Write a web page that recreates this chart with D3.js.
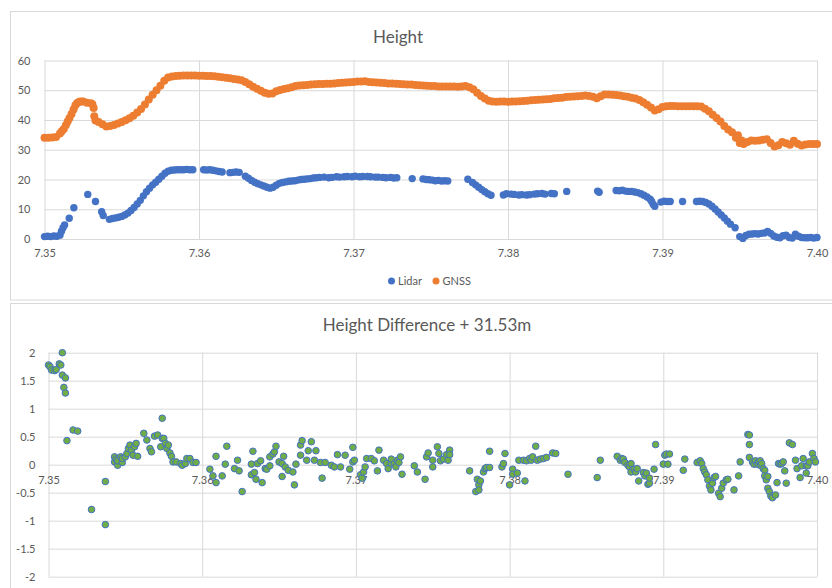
<!DOCTYPE html>
<html lang="en">
<head>
    <meta charset="UTF-8">
    <title>Height</title>
    <style>
        body {
            margin: 0;
            background: #fff;
        }
        svg text {
            font-family: Lato, "Open Sans", sans-serif;
            fill: #595959;
        }
    </style>
    <script src="https://d3js.org/d3.v7.min.js" charset="utf-8"></script>
</head>
<body>
    <script>
        // tick labels
        const xTicks = [7.35, 7.36, 7.37, 7.38, 7.39, 7.40]
        const heightTicks = [0, 10, 20, 30, 40, 50, 60]
        const diffTicks = [-2, -1.5, -1, -0.5, 0, 0.5, 1, 1.5, 2]
        const seriesNames = ['Lidar', 'GNSS']

        // GNSS height
        const gnssX = [
            7.35000,7.35025,7.35050,7.35075,7.35100,7.35112,7.35125,7.35138,7.35150,7.35162,7.35175,7.35188,7.35200,7.35212,7.35225,7.35238,
            7.35250,7.35275,7.35300,7.35310,7.35318,7.35322,7.35330,7.35350,7.35375,7.35400,7.35425,7.35450,7.35475,
            7.35500,7.35525,7.35550,7.35575,7.35600,7.35625,7.35650,7.35675,7.35700,7.35725,
            7.35750,7.35775,7.35800,7.35825,7.35850,7.35875,7.35900,7.35925,7.35950,7.35975,
            7.36000,7.36025,7.36050,7.36075,7.36100,7.36125,7.36150,7.36175,7.36200,7.36225,
            7.36250,7.36275,7.36300,7.36325,7.36350,7.36375,7.36400,7.36425,7.36450,7.36475,
            7.36500,7.36525,7.36550,7.36575,7.36600,7.36625,7.36650,7.36675,7.36700,7.36725,
            7.36750,7.36775,7.36800,7.36825,7.36850,7.36875,7.36900,7.36925,7.36950,7.36975,
            7.37000,7.37025,7.37050,7.37075,7.37100,7.37125,7.37150,7.37175,7.37200,7.37225,
            7.37250,7.37275,7.37300,7.37325,7.37350,7.37375,7.37400,7.37425,7.37450,7.37475,
            7.37500,7.37525,7.37550,7.37575,7.37600,7.37625,7.37650,7.37675,7.37700,7.37725,
            7.37750,7.37775,7.37800,7.37825,7.37850,7.37875,7.37900,7.37925,7.37950,7.37975,
            7.38000,7.38025,7.38050,7.38075,7.38100,7.38125,7.38150,7.38175,7.38200,7.38225,
            7.38250,7.38275,7.38300,7.38325,7.38350,7.38375,7.38400,7.38425,7.38450,7.38475,
            7.38500,7.38525,7.38550,7.38575,7.38600,7.38625,7.38650,7.38675,7.38700,7.38725,
            7.38750,7.38775,7.38800,7.38825,7.38850,7.38875,7.38900,7.38925,7.38950,7.38975,
            7.39000,7.39025,7.39050,7.39075,7.39100,7.39125,7.39150,7.39175,7.39200,7.39225,
            7.39250,7.39275,7.39300,7.39325,7.39350,7.39375,7.39400,7.39425,7.39450,7.39475,7.39488,7.39512,
            7.39500,7.39525,7.39550,7.39575,7.39600,7.39625,7.39650,7.39675,7.39700,7.39725,
            7.39750,7.39775,7.39800,7.39825,7.39850,7.39875,7.39900,7.39925,7.39950,7.39975,
            7.40000
        ]
        const gnssY = [
            34.0,34.0,34.1,34.3,35.5,36.2,37.0,38.2,39.5,40.7,42.0,43.5,45.0,45.7,46.1,46.2,
            46.2,45.8,45.6,45.3,44.0,41.3,39.8,39.3,38.6,37.8,38.0,38.3,38.8,
            39.3,39.9,40.6,41.4,42.5,43.7,45.2,46.9,48.5,50.0,
            51.5,53.2,54.3,54.6,54.8,54.9,55.0,55.0,55.0,55.0,
            54.9,54.9,54.8,54.8,54.7,54.5,54.4,54.2,54.0,53.8,
            53.6,53.4,52.8,52.0,51.2,50.5,49.8,49.2,48.8,48.9,
            49.7,50.1,50.4,50.7,51.0,51.4,51.6,51.7,51.8,51.9,
            52.0,52.1,52.1,52.2,52.2,52.3,52.4,52.5,52.6,52.7,
            52.8,52.9,52.9,53.0,52.8,52.7,52.6,52.5,52.4,52.3,
            52.3,52.2,52.1,52.0,51.9,51.9,51.8,51.7,51.6,51.5,
            51.4,51.4,51.3,51.3,51.3,51.3,51.3,51.2,51.3,51.4,
            51.0,50.3,49.2,48.1,47.2,46.5,46.2,46.1,46.2,46.2,
            46.1,46.2,46.2,46.3,46.4,46.5,46.6,46.7,46.8,46.9,
            47.0,47.1,47.3,47.4,47.5,47.7,47.8,47.9,48.0,48.1,
            48.2,48.1,47.8,47.3,48.0,48.6,48.6,48.5,48.4,48.2,
            48.0,47.8,47.5,47.2,46.7,46.0,45.1,44.2,43.2,43.6,
            44.4,44.6,44.7,44.7,44.6,44.6,44.6,44.6,44.6,44.6,
            44.5,43.8,42.9,41.8,40.7,39.5,38.0,36.8,35.9,34.0,34.9,33.1,
            32.3,31.9,32.6,33.1,33.0,33.1,33.4,33.5,32.3,31.1,
            31.5,32.6,32.2,31.7,33.0,32.0,31.4,31.8,31.9,31.9,
            31.9
        ]

        // Lidar height
        const lidarX = [
            7.3500,7.3502,7.3504,7.3506,7.3508,7.3510,7.3511,7.3512,7.3513,7.3516,7.3519,7.3528,7.3533,7.3537,7.3538,
            7.3542,7.3544,7.3546,7.3548,7.3550,7.3552,7.3554,7.3556,7.3558,7.3560,7.3562,7.3564,7.3566,7.3568,
            7.3570,7.3572,7.3574,7.3576,7.3578,7.3580,7.3582,7.3584,7.3586,7.3588,7.3590,7.3592,7.3594,7.3596,
            7.3603,7.3605,7.3607,7.3609,7.3611,7.3613,7.3615,7.3620,7.3622,7.3624,7.3626,
            7.3630,7.3632,7.3634,7.3636,7.3638,7.3640,7.3642,7.3644,7.3646,7.3648,7.3650,7.3652,7.3654,7.3656,7.3658,
            7.3660,7.3662,7.3664,7.3666,7.3668,7.3670,7.3672,7.3674,7.3676,7.3678,7.3681,7.3684,7.3686,7.3689,
            7.3691,7.3694,7.3696,7.3699,7.3701,7.3704,7.3706,7.3709,7.3711,7.3714,7.3716,7.3719,7.3721,7.3724,7.3726,7.3728,
            7.3738,7.3745,7.3747,7.3749,7.3751,7.3753,7.3755,7.3757,7.3759,7.3761,
            7.3774,7.3777,7.3779,7.3781,7.3783,7.3785,7.3787,7.3789,
            7.3797,7.3799,7.3802,7.3804,7.3807,7.3809,7.3812,7.3814,7.3817,7.3819,7.3822,7.3824,7.3828,7.3830,
            7.3838,7.3858,7.3859,
            7.3870,7.3872,7.3874,7.3876,7.3878,7.3880,7.3882,7.3884,7.3886,7.3888,7.3890,7.3892,7.3893,7.3894,7.3895,
            7.3899,7.3901,7.3903,7.3905,7.3913,
            7.3922,7.3924,7.3926,7.3928,7.3930,7.3932,7.3934,7.3936,7.3938,7.3940,7.3942,7.3944,7.3947,
            7.3950,7.3952,7.3954,7.3956,7.3958,7.3960,7.3962,7.3964,7.3966,7.3968,7.3970,7.3972,7.3974,7.3976,
            7.3978,7.3980,7.3982,7.3984,7.3986,7.3988,7.3990,7.3992,7.3994,7.3996,7.3998,7.4000
        ]
        const lidarY = [
            0.8,0.9,0.8,1.0,0.9,1.3,2.6,3.8,4.7,7.0,10.5,15.0,12.6,9.2,7.9,
            6.6,6.9,7.1,7.3,7.6,8.1,8.7,9.6,10.6,11.8,13.0,14.5,15.9,17.1,
            18.2,19.1,20.1,21.1,22.1,22.8,23.1,23.2,23.3,23.3,23.3,23.4,23.3,23.3,
            23.3,23.2,23.3,23.1,22.9,22.7,22.5,22.3,22.4,22.5,22.4,
            21.1,20.4,19.7,19.1,18.6,18.2,17.8,17.4,17.1,17.4,18.1,18.7,19.0,19.2,19.4,
            19.5,19.6,19.8,20.0,20.1,20.2,20.3,20.5,20.6,20.7,20.8,20.6,20.7,20.9,
            20.8,20.9,21.0,20.9,21.1,20.9,21.0,21.0,20.9,20.8,20.8,20.7,20.6,20.7,20.5,20.6,
            20.3,20.2,20.0,19.9,19.8,19.6,19.7,19.5,19.6,19.5,
            20.1,19.0,18.2,17.4,16.6,15.9,15.2,14.7,
            14.8,15.2,15.1,15.0,14.8,14.9,14.8,14.9,15.1,15.2,15.3,15.1,15.3,15.2,
            16.0,16.1,15.7,
            16.3,16.2,16.4,16.1,16.0,16.0,15.8,15.6,15.2,14.7,14.1,13.4,12.6,11.6,11.0,
            12.4,12.7,12.6,12.6,12.6,
            12.6,12.7,12.6,12.3,11.8,11.0,10.1,9.1,8.1,7.1,6.0,5.0,3.8,
            0.8,0.2,1.2,1.6,1.7,1.8,1.7,1.9,2.0,2.5,1.9,1.0,0.6,0.4,
            1.1,1.3,0.5,0.3,1.6,0.9,0.5,0.4,0.4,0.5,0.3,0.5
        ]

        // height difference (+31.53 m)
        const diffX = [
            7.3500,7.3501,7.3502,7.3504,7.3505,7.3507,7.3508,7.3509,7.3509,7.3510,7.3511,7.3511,7.3512,7.3516,7.3519,
            7.3528,7.3537,7.3537,7.3543,7.3543,7.3544,7.3545,7.3545,7.3547,7.3548,7.3548,7.3550,7.3551,7.3552,7.3553,
            7.3554,7.3555,7.3556,7.3557,7.3558,7.3562,7.3564,7.3566,7.3567,7.3569,7.3571,7.3573,7.3574,7.3574,7.3575,
            7.3576,7.3577,7.3578,7.3579,7.3580,7.3581,7.3583,7.3586,7.3587,7.3589,7.3590,7.3592,7.3594,7.3596,
            7.3605,7.3607,7.3609,7.3609,7.3613,7.3615,7.3616,7.3621,7.3623,7.3624,7.3626,7.3632,7.3632,7.3633,7.3634,
            7.3635,7.3636,7.3639,7.3638,7.3641,7.3642,7.3644,7.3644,7.3646,7.3647,7.3648,
            7.3650,7.3652,7.3652,7.3653,7.3654,7.3656,7.3659,7.3660,7.3661,7.3664,7.3664,7.3665,7.3668,7.3669,7.3671,
            7.3673,7.3674,7.3677,7.3678,7.3680,7.3684,7.3686,7.3688,7.3690,7.3693,7.3696,7.3698,7.3698,7.3699,
            7.3703,7.3704,7.3705,7.3706,7.3707,7.3710,7.3712,7.3714,7.3715,7.3718,7.3720,7.3721,7.3723,7.3723,
            7.3725,7.3726,7.3727,7.3728,7.3729,7.3730,7.3738,7.3740,7.3745,7.3746,7.3747,7.3750,7.3750,7.3753,
            7.3754,7.3755,7.3757,7.3759,7.3760,7.3761,7.3761,
            7.3774,7.3778,7.3779,7.3780,7.3780,7.3781,7.3783,7.3784,7.3785,7.3787,7.3787,7.3795,7.3796,7.3797,
            7.3800,7.3802,7.3802,7.3805,7.3806,7.3809,7.3810,7.3811,7.3813,7.3814,7.3815,7.3817,7.3818,7.3820,
            7.3822,7.3824,7.3828,7.3830,
            7.3838,7.3857,7.3859,7.3870,7.3872,7.3873,7.3874,7.3875,7.3877,7.3878,7.3879,7.3879,7.3881,7.3882,
            7.3883,7.3884,7.3887,7.3888,7.3889,7.3890,7.3891,7.3891,7.3894,7.3895,7.3900,7.3901,7.3902,7.3903,
            7.3904,7.3913,7.3914,7.3922,7.3924,7.3925,7.3926,7.3927,7.3928,7.3929,7.3930,7.3931,7.3932,7.3933,
            7.3934,7.3936,7.3937,7.3938,7.3939,7.3941,7.3942,7.3946,7.3949,7.3950,7.3955,7.3956,7.3956,7.3956,
            7.3958,7.3959,7.3960,7.3961,7.3962,7.3963,7.3963,7.3964,7.3965,7.3966,7.3966,7.3967,7.3968,7.3968,
            7.3969,7.3970,7.3971,7.3973,7.3974,7.3975,7.3976,7.3977,7.3978,7.3979,7.3980,7.3982,7.3984,7.3986,
            7.3987,7.3989,7.3990,7.3991,7.3993,7.3993,7.3994,7.3995,7.3997,7.3998,7.3999
        ]
        const diffY = [
            1.78,1.75,1.69,1.68,1.70,1.80,1.78,2.00,1.60,1.38,1.55,1.28,0.43,0.62,0.60,
            -0.80,-1.07,-0.30,0.14,0.05,0.10,-0.01,0.07,0.14,0.04,0.11,0.14,0.20,0.29,0.35,
            0.26,0.17,0.32,0.38,0.15,0.56,0.44,0.29,0.23,0.51,0.53,0.32,0.83,0.47,0.47,
            0.38,0.29,0.35,0.21,0.15,0.05,0.05,0.02,-0.01,0.02,0.11,0.11,0.04,0.04,
            -0.08,-0.20,-0.32,0.15,-0.20,0.01,0.33,-0.07,0.08,-0.11,-0.48,0.01,-0.18,0.24,-0.14,
            -0.26,0.02,-0.32,0.07,-0.07,-0.08,-0.02,0.14,0.19,0.23,0.33,
            0.05,0.02,-0.21,0.15,-0.04,-0.10,-0.13,-0.36,0.01,0.35,0.17,0.43,0.08,0.25,0.41,
            0.08,0.25,0.04,-0.24,0.04,-0.01,-0.04,0.18,-0.04,0.17,-0.08,0.31,0.05,0.08,
            -0.18,-0.24,-0.13,-0.04,0.11,0.11,0.07,-0.11,0.26,0.08,0.02,-0.07,0.02,0.10,
            0.02,-0.04,0.08,0.04,0.14,-0.17,-0.02,-0.13,-0.26,0.14,0.21,-0.04,0.08,0.32,
            0.20,0.07,0.10,0.18,0.08,0.26,0.18,
            -0.11,-0.48,-0.26,-0.36,-0.45,-0.29,-0.13,-0.07,-0.05,0.24,-0.05,-0.04,0.02,0.20,
            -0.36,-0.08,-0.17,-0.15,0.08,0.08,-0.29,0.07,0.11,0.08,0.14,0.33,0.08,0.10,
            0.11,0.13,0.21,0.20,
            -0.17,-0.23,0.08,0.15,0.08,0.11,0.10,0.04,-0.01,-0.04,0.02,-0.13,-0.08,-0.13,
            -0.07,-0.29,-0.14,-0.20,-0.15,-0.35,-0.33,-0.24,-0.08,0.36,0.01,0.17,0.19,0.01,
            0.19,-0.10,0.10,0.04,0.07,0.02,-0.07,-0.13,-0.18,-0.27,-0.38,-0.45,-0.33,-0.23,
            -0.21,-0.51,-0.57,-0.42,-0.33,-0.27,-0.26,-0.45,-0.20,0.05,0.54,0.53,0.36,0.13,
            0.05,0.01,0.07,0.01,0.05,0.07,-0.01,0.02,-0.07,-0.10,-0.20,-0.27,-0.21,-0.42,
            -0.48,-0.56,-0.59,-0.54,-0.32,0.02,0.01,0.02,0.05,-0.11,-0.33,0.39,0.36,0.08,
            -0.07,-0.23,-0.02,0.11,-0.15,-0.02,-0.02,0.05,0.20,0.11,0.05
        ]

        const width = 832
        const height = 588
        const grid = '#d9d9d9'
        const blue = '#4472c4'
        const orange = '#ed7d31'
        const green = '#70ad47'

        const svg = d3.select('body').append('svg').attr('width', width).attr('height', height)

        // chart frames
        svg.append('rect').attr('x', 10.5).attr('y', 11.5).attr('width', 840).attr('height', 288.5)
            .attr('fill', '#fff').attr('stroke', grid)
        svg.append('rect').attr('x', 10.5).attr('y', 303.5).attr('width', 840).attr('height', 300)
            .attr('fill', '#fff').attr('stroke', grid)

        function styleAxis(g, size) {
            g.select('.domain').remove()
            g.selectAll('.tick line').attr('stroke', grid)
            g.selectAll('.tick text').attr('font-size', size).attr('fill', '#595959')
                .attr('font-family', 'Lato, sans-serif')
        }

        // ---- top chart: Height ----
        const topBox = { left: 44.5, right: 817, top: 60.5, bottom: 239 }
        const xTop = d3.scaleLinear().domain([7.35, 7.40]).range([topBox.left, topBox.right])
        const yTop = d3.scaleLinear().domain([0, 60]).range([topBox.bottom, topBox.top])

        svg.append('g').attr('transform', `translate(0, ${topBox.bottom})`)
            .call(d3.axisBottom(xTop).tickValues(xTicks).tickFormat(d3.format('.2f'))
                .tickSize(-(topBox.bottom - topBox.top)).tickPadding(10))
            .call(g => styleAxis(g, 11))
        svg.append('g').attr('transform', `translate(${topBox.left}, 0)`)
            .call(d3.axisLeft(yTop).tickValues(heightTicks)
                .tickSize(-(topBox.right - topBox.left)).tickPadding(14))
            .call(g => styleAxis(g, 11))

        svg.append('text').attr('x', 398).attr('y', 43).attr('text-anchor', 'middle')
            .attr('font-size', 17).text('Height')

        const lidar = d3.zip(lidarX, lidarY)
        const gnss = d3.zip(gnssX, gnssY)

        svg.append('g').selectAll('circle').data(lidar).enter().append('circle')
            .attr('cx', d => xTop(d[0])).attr('cy', d => yTop(d[1])).attr('r', 3.7)
            .attr('fill', blue)
        svg.append('g').selectAll('circle').data(gnss).enter().append('circle')
            .attr('cx', d => xTop(d[0])).attr('cy', d => yTop(d[1])).attr('r', 4)
            .attr('fill', orange)

        // legend
        const legend = svg.append('g').attr('transform', 'translate(391.5, 281)')
        legend.selectAll('circle').data(seriesNames).enter().append('circle')
            .attr('cx', (d, i) => i * 44.5).attr('cy', 0).attr('r', 3.5)
            .attr('fill', (d, i) => i ? orange : blue)
        legend.selectAll('text').data(seriesNames).enter().append('text')
            .attr('x', (d, i) => i * 44.5 + 6.5).attr('y', 4).attr('font-size', 11)
            .text(d => d)

        // ---- bottom chart: Height Difference ----
        const botBox = { left: 48.5, right: 817, top: 352.7, bottom: 576.7 }
        const xBot = d3.scaleLinear().domain([7.35, 7.40]).range([botBox.left, botBox.right])
        const yBot = d3.scaleLinear().domain([-2, 2]).range([botBox.bottom, botBox.top])

        svg.append('g').attr('transform', `translate(0, ${botBox.bottom})`)
            .call(d3.axisBottom(xBot).tickValues(xTicks).tickFormat('')
                .tickSize(-(botBox.bottom - botBox.top)))
            .call(g => styleAxis(g, 11))
        svg.append('g').attr('transform', `translate(${botBox.left}, 0)`)
            .call(d3.axisLeft(yBot).tickValues(diffTicks).tickFormat(d => String(d))
                .tickSize(-(botBox.right - botBox.left)).tickPadding(13))
            .call(g => styleAxis(g, 11))
        svg.append('g').attr('transform', `translate(0, ${yBot(0)})`)
            .call(d3.axisBottom(xBot).tickValues(xTicks).tickFormat(d3.format('.2f'))
                .tickSize(0).tickPadding(12))
            .call(g => styleAxis(g, 11))

        svg.append('text').attr('x', 427).attr('y', 331).attr('text-anchor', 'middle')
            .attr('font-size', 17).text('Height Difference + 31.53m')

        const diff = d3.zip(diffX, diffY)
        svg.append('g').selectAll('circle').data(diff).enter().append('circle')
            .attr('cx', d => xBot(d[0])).attr('cy', d => yBot(d[1])).attr('r', 3.3)
            .attr('fill', green).attr('stroke', blue).attr('stroke-width', 1)
    </script>
</body>
</html>
